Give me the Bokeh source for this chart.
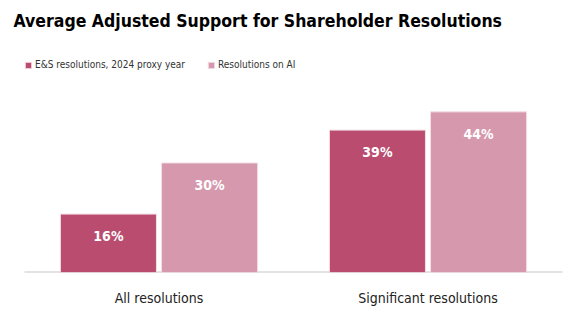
from bokeh.plotting import figure
from bokeh.models import ColumnDataSource, FactorRange, Range1d, Legend, LegendItem, Label
from bokeh.transform import dodge
from bokeh.core.properties import value
from bokeh.embed import file_html
from bokeh.resources import INLINE

categories = ["All resolutions", "Significant resolutions"]
series_names = ["E&S resolutions, 2024 proxy year", "Resolutions on AI"]
es_values = [16, 39]
ai_values = [30, 44]
colors = ["#B94C6F", "#D698AD"]
title_text = "Average Adjusted Support for Shareholder Resolutions"

FONT = "DejaVu Sans Condensed"

src = ColumnDataSource(dict(
    cat=categories,
    es=es_values,
    ai=ai_values,
    es_lab=[f"{v}%" for v in es_values],
    ai_lab=[f"{v}%" for v in ai_values],
))
base_src = ColumnDataSource(dict(x0=[categories[0]], x1=[categories[-1]], y=[0]))

p = figure(width=586, height=328,
           x_range=FactorRange(*categories, range_padding=0.0892, group_padding=0),
           y_range=Range1d(0, 74.5),
           output_backend="svg", toolbar_location=None,
           min_border_left=0, min_border_right=0, min_border_bottom=56, min_border_top=0)

p.add_layout(Label(x=13, y=252, x_units="screen", y_units="screen", text=title_text,
                   text_font=FONT, text_font_size="17.5px", text_font_style="bold",
                   text_color="#000000", text_baseline="alphabetic", text_align="left"))

# baseline rule spanning the category area
p.segment(x0=dodge("x0", -0.5, range=p.x_range), x1=dodge("x1", 0.5, range=p.x_range),
          y0="y", y1="y", source=base_src, line_color="#C8C8C8", line_width=2)

off = 0.188
w = 0.357
r1 = p.vbar(x=dodge("cat", -off, range=p.x_range), top="es", width=w, source=src,
            fill_color=colors[0], line_color="#F3DDE4", line_width=1)
r2 = p.vbar(x=dodge("cat", off, range=p.x_range), top="ai", width=w, source=src,
            fill_color=colors[1], line_color="#F3DDE4", line_width=1)

for col, lab, dx in (("es", "es_lab", -off), ("ai", "ai_lab", off)):
    p.text(x=dodge("cat", dx, range=p.x_range), y=col, text=lab, source=src,
           text_align="center", text_baseline="middle", y_offset=22,
           text_color="white", text_font=value(FONT), text_font_style="bold",
           text_font_size="14px")

legend = Legend(items=[LegendItem(label=series_names[0], renderers=[r1]),
                       LegendItem(label=series_names[1], renderers=[r2])],
                orientation="horizontal", location=(24, 202),
                glyph_width=8, glyph_height=8, label_standoff=3, spacing=22,
                label_text_font=FONT, label_text_font_size="10px", label_text_color="#333333",
                border_line_color=None, background_fill_alpha=0, padding=0, margin=0)
p.add_layout(legend)

p.xaxis.axis_line_color = None
p.xaxis.major_tick_line_color = None
p.xaxis.minor_tick_line_color = None
p.xaxis.major_label_text_font = FONT
p.xaxis.major_label_text_font_size = "14px"
p.xaxis.major_label_text_color = "#222222"
p.xaxis.major_label_standoff = 11
p.yaxis.visible = False
p.xgrid.visible = False
p.ygrid.visible = False
p.outline_line_color = None

open("out.html", "w").write(file_html(p, INLINE))
